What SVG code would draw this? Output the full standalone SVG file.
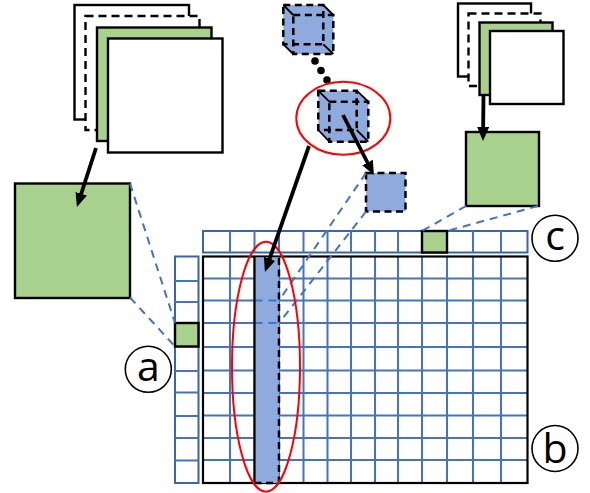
<svg xmlns="http://www.w3.org/2000/svg" width="590" height="493" viewBox="0 0 590 493">
<style>
.sq{fill:#fff;stroke:#000;stroke-width:2.4}
.dsq{fill:#fff;stroke:#000;stroke-width:2.4;stroke-dasharray:8 5}
.gsq{fill:#a9d18e;stroke:#000;stroke-width:2.4}
.bl{stroke:#4472c4;stroke-width:2;fill:none}
.blo{stroke:#3a63b0;stroke-width:2;fill:#fff}
.proj{stroke:#4472c4;stroke-width:2;stroke-dasharray:8 6;fill:none}
.bfill{fill:#8faadc;stroke:none}
.dash{stroke:#000;stroke-width:2.5;stroke-dasharray:7 4.5;fill:none}
.solid{stroke:#000;stroke-width:1.8;fill:none}
.red{stroke:#f00;stroke-width:2;fill:none}
.arr{stroke:#000;stroke-width:3.8;fill:none;marker-end:url(#ah)}
.lbl{font-family:"Open Sans","DejaVu Sans",sans-serif;font-size:41px;fill:#000;text-anchor:middle}
.circ{fill:#fff;stroke:#000;stroke-width:1.6}
</style>
<defs>
<marker id="ah" markerUnits="userSpaceOnUse" markerWidth="16" markerHeight="14" refX="5" refY="6" orient="auto">
<path d="M0,0 L14,6 L0,12 z" fill="#000"/>
</marker>
</defs>

<g id="stack-left">
<rect class="sq" x="74.5" y="5" width="114.5" height="114.5"/>
<rect class="dsq" x="85.5" y="16" width="114" height="114"/>
<rect class="gsq" x="97" y="27.5" width="114.5" height="113.5"/>
<rect class="sq" x="108" y="38.5" width="114.5" height="114"/>
</g>

<g id="stack-right">
<rect class="sq" x="458" y="3.5" width="73" height="73"/>
<rect class="dsq" x="468.5" y="13.5" width="72" height="72.5"/>
<rect class="gsq" x="479.5" y="22.5" width="73" height="72.5"/>
<rect class="sq" x="490" y="31" width="73.5" height="73"/>
</g>

<g id="green-left"><rect class="gsq" x="15" y="183.5" width="115" height="114.5"/></g>
<g id="green-right"><rect class="gsq" x="466" y="132" width="73" height="74"/></g>

<g id="cube-top">
<polygon class="bfill" points="283.3,5 323.3,5 333.3,15 333.3,54 293.3,54 283.3,44.3"/>
<rect class="dash" x="283.3" y="5" width="40" height="39.3"/>
<rect class="dash" x="293.3" y="15" width="40" height="39"/>
<path class="solid" d="M283.3,5 L293.3,15 M323.3,5 L333.3,15 M283.3,44.3 L293.3,54 M323.3,44.3 L333.3,54"/>
</g>

<g id="dots">
<circle cx="315" cy="61" r="3.8"/>
<circle cx="321" cy="70.5" r="3.8"/>
<circle cx="327" cy="80" r="3.8"/>
</g>

<g id="cube-mid">
<polygon class="bfill" points="318.3,90.7 356.7,90.7 368.3,101.7 368.3,141.7 329.3,141.7 318.3,130"/>
<rect class="dash" x="318.3" y="90.7" width="38.4" height="39.3"/>
<rect class="dash" x="329.3" y="101.7" width="39" height="40"/>
<path class="solid" d="M318.3,90.7 L329.3,101.7 M356.7,90.7 L368.3,101.7 M318.3,130 L329.3,141.7 M356.7,130 L368.3,141.7"/>
</g>

<g id="slice">
<rect class="bfill" x="366" y="173" width="39.5" height="38.5"/>
<rect class="dash" x="366" y="173" width="39.5" height="38.5"/>
</g>

<g id="top-row">
<rect class="blo" x="203" y="231" width="324.5" height="21.5"/>
<path class="bl" d="M230,231V252.5 M254.5,231V252.5 M279,231V252.5 M303.5,231V252.5 M327.5,231V252.5 M351,231V252.5 M375,231V252.5 M398,231V252.5 M422,231V252.5 M447,231V252.5 M473,231V252.5 M501,231V252.5"/>
<rect class="gsq" x="422" y="231" width="25" height="21.5"/>
</g>

<g id="left-col">
<rect class="blo" x="175" y="256.5" width="23.5" height="226.5"/>
<path class="bl" d="M175,281H198.5 M175,302H198.5 M175,323H198.5 M175,346.5H198.5 M175,371H198.5 M175,392.5H198.5 M175,416H198.5 M175,438H198.5 M175,460.5H198.5"/>
<rect class="gsq" x="175" y="323" width="23.5" height="23.5"/>
</g>

<g id="main-grid">
<rect x="203" y="256.5" width="324.5" height="226.5" fill="#fff"/>
<path class="bl" d="M230,256.5V483 M254.5,256.5V483 M279,256.5V483 M303.5,256.5V483 M327.5,256.5V483 M351,256.5V483 M375,256.5V483 M398,256.5V483 M422,256.5V483 M447,256.5V483 M473,256.5V483 M501,256.5V483"/>
<path class="bl" d="M203,278.5H527.5 M203,300.5H527.5 M203,323H527.5 M203,347H527.5 M203,370.5H527.5 M203,393H527.5 M203,415.5H527.5 M203,438H527.5 M203,460H527.5"/>
<rect x="203" y="256.5" width="324.5" height="226.5" fill="none" stroke="#000" stroke-width="2.2"/>
</g>

<g id="column">
<rect class="bfill" x="254.5" y="257.5" width="24.5" height="225.5"/>
<path class="proj" d="M254.5,300.5H279 M254.5,323H279"/>
<path d="M254.5,256.5V483" stroke="#000" stroke-width="2.2"/>
<path class="dash" d="M279,258V483 M254.5,483H279"/>
</g>

<g id="connectors">
<path class="proj" d="M130,183.5L175,323 M130,297.5L175,346.5"/>
<path class="proj" d="M466,206L422,231 M538,206L447,231"/>
<path class="proj" d="M366,173L279,300.5 M366,211.5L279,323"/>
<ellipse class="red" cx="343.3" cy="118.3" rx="47" ry="36.5"/>
<ellipse class="red" cx="266" cy="366.7" rx="34" ry="125"/>
<path class="arr" d="M96,148L79.7,198.5"/>
<path class="arr" d="M343,115L369.8,167"/>
<path class="arr" d="M309,146L267.9,263.5"/>
<path class="arr" d="M483.5,96L483.1,132"/>
</g>

<g id="label-a"><circle class="circ" cx="148.3" cy="369.3" r="23"/><text class="lbl" x="148.3" y="381">a</text></g>
<g id="label-b"><circle class="circ" cx="555" cy="448.5" r="23"/><text class="lbl" x="555" y="463">b</text></g>
<g id="label-c"><circle class="circ" cx="555" cy="238.3" r="23"/><text class="lbl" x="555" y="250">c</text></g>
</svg>
